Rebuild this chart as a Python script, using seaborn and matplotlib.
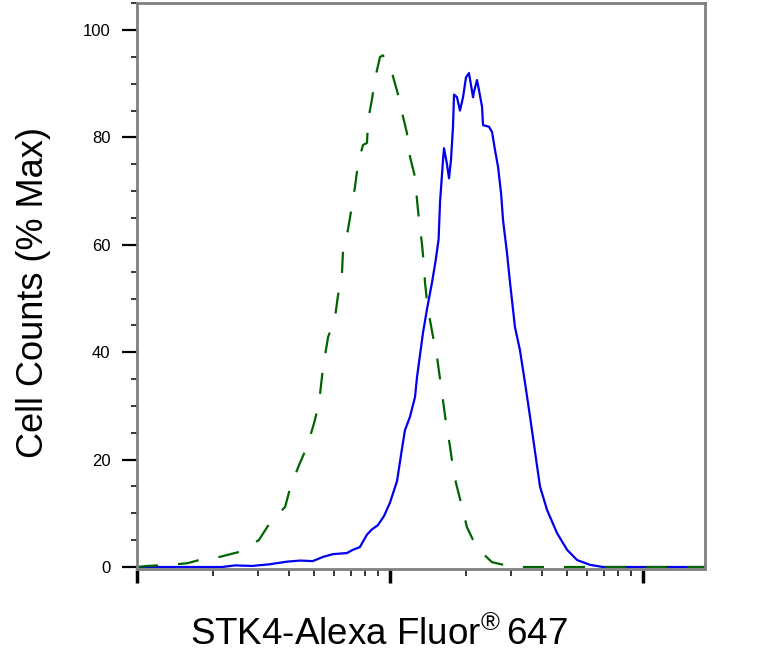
import seaborn as sns
import matplotlib.pyplot as plt
import numpy as np
from matplotlib.ticker import LogLocator, MultipleLocator, NullFormatter

# Intensités (axe log) et % du max
stk4_x = [100, 217, 244, 285, 333, 392, 441, 495, 545, 595, 676, 713, 760, 810,
          848, 896, 947, 1000, 1066, 1115, 1146, 1200, 1256, 1279, 1350, 1400,
          1466, 1514, 1535, 1556, 1577, 1620, 1635, 1680, 1711, 1742, 1774, 1791,
          1840, 1890, 1944, 1997, 2052, 2129, 2148, 2207, 2248, 2311, 2332, 2463,
          2532, 2602, 2674, 2748, 2798, 2900, 2981, 3118, 3263, 3417, 3577, 3742,
          3916, 4178, 4575, 5012, 5487, 6177, 6950, 17580]
stk4_y = [0, 0, 0.3, 0.2, 0.5, 1.0, 1.2, 1.1, 1.9, 2.4, 2.6, 3.2, 3.7, 6.0,
          7.0, 7.8, 9.5, 12, 16, 22, 25.5, 28, 31.7, 35.4, 43.6, 48,
          53, 57, 59, 61, 68, 75.8, 78, 75, 72.4, 75.8, 82, 88,
          87.5, 85, 87.5, 91.2, 92, 87.5, 88.5, 90.7, 88.8, 85.7, 82.3, 82,
          81, 77.6, 74.5, 69.6, 64.6, 58.5, 53, 44.7, 40.4, 34.3, 28, 21.5,
          15, 10.6, 6.3, 3.2, 1.3, 0.4, 0, 0]

ctrl_x = [100, 110, 135, 158, 176, 213, 253, 303, 335, 385, 403, 437, 470, 501,
          524, 543, 569, 606, 623, 646, 652, 682, 708, 727, 748, 782, 811, 819,
          848, 873, 913, 938, 1019, 1076, 1115, 1167, 1200, 1256, 1279, 1303,
          1337, 1362, 1375, 1400, 1439, 1478, 1535, 1577, 1620, 1663, 1726, 1774,
          1824, 1926, 2015, 2207, 2532, 3062, 17580]
ctrl_y = [0, 0.2, 0.4, 0.7, 1.3, 1.9, 2.8, 5, 8.2, 11.2, 14.7, 19, 22.4, 26.8,
          30.5, 37, 42.8, 46.4, 50.6, 54.7, 59, 62.8, 67.4, 70.8, 75.2, 78.6, 79, 83.2,
          87, 91, 95, 95.3, 92, 88, 84.7, 80.8, 76.4, 72.6, 68.3, 64.5,
          60.3, 56.2, 53, 49.5, 46, 43, 39, 35, 31, 27, 22.5, 18.5,
          15.6, 11.2, 7.4, 3.5, 0.9, 0, 0]

sns.set_style('ticks')
plt.rcParams['font.family'] = ['Liberation Sans', 'DejaVu Sans']
plt.rcParams['mathtext.fontset'] = 'custom'
plt.rcParams['mathtext.rm'] = 'Liberation Sans'
plt.rcParams['text.color'] = 'black'
plt.rcParams['xtick.color'] = 'black'
plt.rcParams['ytick.color'] = 'black'

fig = plt.figure(figsize=(7.82, 6.61), dpi=100)
ax = fig.add_axes([137 / 782, 1 - 569 / 661, 568 / 782, 566 / 661])

# STK4 (bleu) et contrôle (pointillés verts)
sns.lineplot(x=stk4_x, y=stk4_y, ax=ax, color='#0000ee', lw=1.6,
             estimator=None, sort=False)
sns.lineplot(x=ctrl_x, y=ctrl_y, ax=ax, color='#006400', lw=1.6,
             estimator=None, sort=False, linestyle=(0, (9.5, 9)))

ax.set_xscale('log')
ax.set_xlim(100, 10 ** (2 + 568 / 253))
ax.set_ylim(-0.37, 105.05)

ax.xaxis.set_major_locator(LogLocator(base=10, numticks=10))
ax.xaxis.set_minor_locator(LogLocator(base=10, subs=np.arange(2, 10), numticks=20))
ax.xaxis.set_major_formatter(NullFormatter())
ax.xaxis.set_minor_formatter(NullFormatter())
ax.yaxis.set_major_locator(MultipleLocator(20))
ax.yaxis.set_minor_locator(MultipleLocator(5))

ax.tick_params(axis='x', which='major', length=10, width=2.5, color='black', direction='out')
ax.tick_params(axis='x', which='minor', length=5, width=1.1, color='black', direction='out')
ax.tick_params(axis='y', which='major', length=11, width=1.6, color='black',
               labelsize=12, labelcolor='black', pad=8)
ax.tick_params(axis='y', which='minor', length=4.5, width=1.1, color='black')

for s in ax.spines.values():
    s.set_color('#808080')
    s.set_linewidth(2)
    s.set_visible(True)

ax.set_xlabel('')
ax.set_ylabel('')
fig.text(34 / 782, 1 - 292 / 661, 'Cell Counts (% Max)', rotation=90,
         ha='center', va='center', fontsize=26, color='black')
fig.text(379 / 782, 1 - 645 / 661, r'STK4-Alexa Fluor$^{\mathrm{®}}\,$647',
         ha='center', va='baseline', fontsize=26.5, color='black')

plt.savefig('out.png', dpi=100)
